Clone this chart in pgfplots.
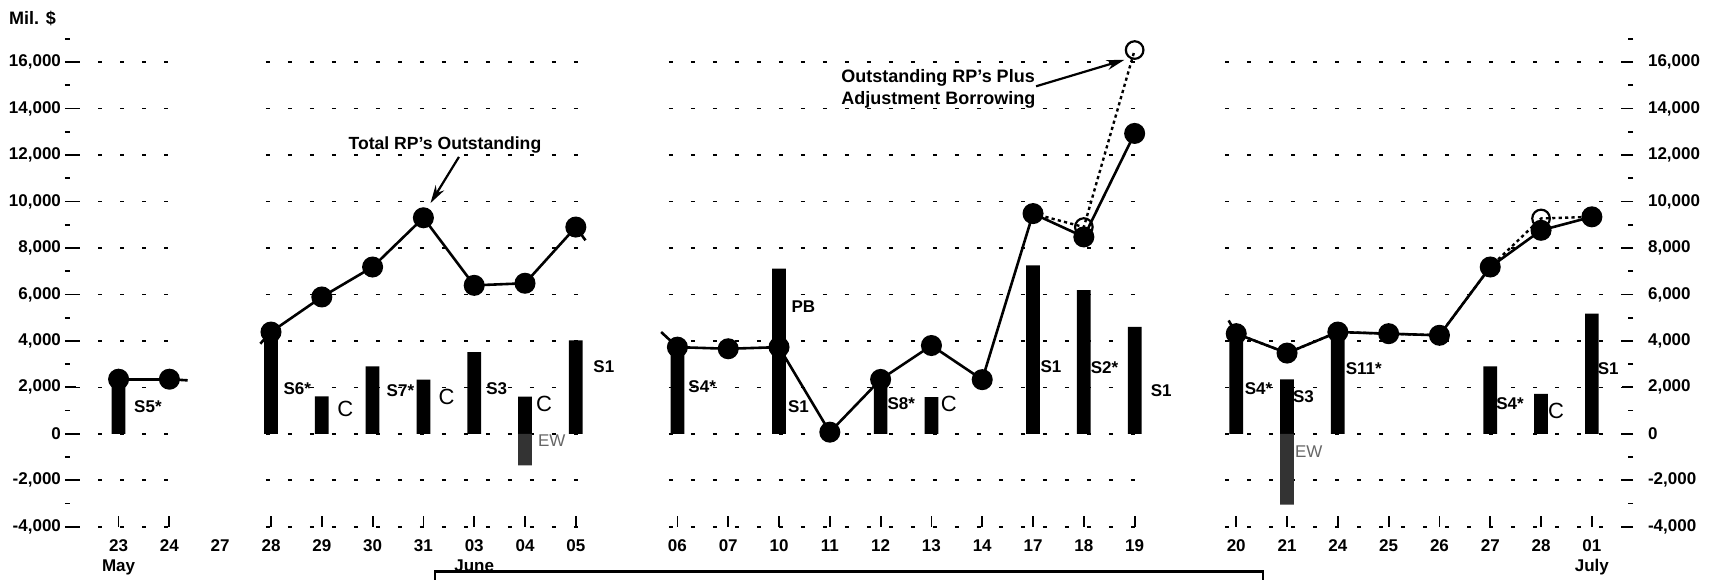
\documentclass[border=0pt]{standalone}
\usepackage{fontspec}
\setmainfont{Liberation Sans}
\usepackage{pgfplots}
\pgfplotsset{compat=1.18}
\usetikzlibrary{arrows.meta}

\newcommand\tickfont{\bfseries\fontsize{8.5}{10}\selectfont}
\newcommand\labfont{\bfseries\fontsize{8.5}{10}\selectfont}
\newcommand\cfont{\fontsize{11}{12}\selectfont}

\tikzset{
  griddash/.style={black, line width=0.8pt, dash pattern=on 2pt off 9pt},
  lab/.style={anchor=west, inner sep=0pt, font=\labfont},
  clab/.style={anchor=west, inner sep=0pt, font=\cfont},
  ewlab/.style={anchor=west, inner sep=0pt, font=\fontsize{8.5}{10}\selectfont, text=black!60},
}

\begin{document}
\begin{tikzpicture}
\begin{axis}[name=ax,
  scale only axis, width=784pt, height=243.9pt,
  xmin=-1.055, xmax=29.81, ymin=-4000, ymax=17000,
  clip=false,
  axis line style={draw=none},
  tick align=inside,
  major tick length=5.5pt, minor tick length=2.5pt,
  tick style={black, line width=0.9pt},
  xtick pos=bottom, ytick pos=both, yticklabel pos=left,
  scaled y ticks=false,
  xtick={0,1,3,4,5,6,7,8,9,11,12,13,14,15,16,17,18,19,20,22,23,24,25,26,27,28,29},
  xticklabels={{23\\May},24,28,29,30,31,{03\\June},04,05,06,07,10,11,12,13,14,17,18,19,20,21,24,25,26,27,28,{01\\July}},
  extra x ticks={2}, extra x tick labels={27},
  extra x tick style={tick style={draw=none}},
  ytick={-4000,-2000,0,2000,4000,6000,8000,10000,12000,14000,16000},
  minor ytick={-3000,-1000,1000,3000,5000,7000,9000,11000,13000,15000,17000},
  yticklabels={{-4,000},{-2,000},0,{2,000},{4,000},{6,000},{8,000},{10,000},{12,000},{14,000},{16,000}},
  ticklabel style={font=\tickfont},
  xticklabel style={align=center, yshift=-3pt},
  yticklabel style={xshift=1.5pt},
]

% dashed grid, in four pieces
\pgfplotsinvokeforeach{-4000,-2000,0,2000,4000,6000,8000,10000,12000,14000,16000}{
  \addplot[griddash, forget plot] coordinates {(-0.83,#1) (1.3,#1)};
  \addplot[griddash, forget plot] coordinates {(2.9,#1) (9.25,#1)};
  \addplot[griddash, forget plot] coordinates {(10.83,#1) (20.14,#1)};
  \addplot[griddash, forget plot] coordinates {(21.78,#1) (29.6,#1)};
}

% operations (bars)
\addplot[ybar, bar width=0.27, bar shift=0pt, fill=black, draw=none] coordinates {
  (0,2330) (3,4300) (4,1610) (5,2900) (6,2330) (7,3520) (8,1600) (9,4020)
  (11,3730) (13,7110) (15,2340) (16,1580) (18,7250) (19,6180) (20,4600)
  (22,4310) (23,2340) (24,4380) (27,2900) (28,1720) (29,5170)
};
\addplot[ybar, bar width=0.27, bar shift=0pt, fill=black!80, draw=none] coordinates {
  (8,-1360) (23,-3050)
};

% outstanding RPs plus adjustment borrowing (dotted)
\addplot[black, line width=1.2pt, dash pattern=on 1.6pt off 1.6pt] coordinates {
  (18,9480) (19,8900) (20,16520)
};
\addplot[black, line width=1.2pt, dash pattern=on 1.6pt off 1.6pt] coordinates {
  (22,4310) (23,3475) (24,4380) (25,4310) (26,4240) (27,7180) (28,9270) (29,9340)
};
\addplot[only marks, mark=o, mark size=4.4pt, mark options={black, line width=1.1pt, fill=white}] coordinates {
  (19,8900) (20,16520) (28,9270)
};

% total RPs outstanding (solid)
\addplot[black, line width=1.3pt] coordinates {(1,2350) (1.36,2300)};
\addplot[black, line width=1.3pt] coordinates {(2.79,3880) (3,4380)};
\addplot[black, line width=1.3pt] coordinates {(9,8900) (9.19,8330)};
\addplot[black, line width=1.3pt] coordinates {(10.68,4380) (11,3730)};
\addplot[black, line width=1.3pt] coordinates {(21.85,4880) (22,4310)};
\addplot[black, line width=1.3pt, mark=*, mark size=4.6pt, mark options={fill=black}] coordinates {
  (0,2350) (1,2350)
};
\addplot[black, line width=1.3pt, mark=*, mark size=4.6pt, mark options={fill=black}] coordinates {
  (3,4380) (4,5890) (5,7180) (6,9300) (7,6390) (8,6480) (9,8900)
};
\addplot[black, line width=1.3pt, mark=*, mark size=4.6pt, mark options={fill=black}] coordinates {
  (11,3730) (12,3660) (13,3730) (14,70) (15,2340) (16,3800) (17,2330) (18,9480) (19,8475) (20,12930)
};
\addplot[black, line width=1.3pt, mark=*, mark size=4.6pt, mark options={fill=black}] coordinates {
  (22,4310) (23,3475) (24,4380) (25,4310) (26,4240) (27,7180) (28,8760) (29,9340)
};

% bar labels
\node[lab] at (axis cs:0.30,1150) {S5*};
\node[lab] at (axis cs:3.24,1940) {S6*};
\node[clab] at (axis cs:4.30,1080) {C};
\node[lab] at (axis cs:5.27,1870) {S7*};
\node[clab] at (axis cs:6.29,1580) {C};
\node[lab] at (axis cs:7.23,1950) {S3};
\node[clab] at (axis cs:8.21,1300) {C};
\node[ewlab] at (axis cs:8.25,-290) {EW};
\node[lab] at (axis cs:9.34,2900) {S1};
\node[lab] at (axis cs:11.21,2010) {S4*};
\node[lab] at (axis cs:13.24,5460) {PB};
\node[lab] at (axis cs:13.17,1150) {S1};
\node[lab] at (axis cs:15.13,1290) {S8*};
\node[clab] at (axis cs:16.18,1290) {C};
\node[lab] at (axis cs:18.14,2870) {S1};
\node[lab] at (axis cs:19.13,2850) {S2*};
\node[lab] at (axis cs:20.31,1870) {S1};
\node[lab] at (axis cs:22.16,1950) {S4*};
\node[lab] at (axis cs:23.11,1580) {S3};
\node[ewlab] at (axis cs:23.15,-790) {EW};
\node[lab] at (axis cs:24.15,2800) {S11*};
\node[lab] at (axis cs:27.11,1290) {S4*};
\node[clab] at (axis cs:28.13,1000) {C};
\node[lab] at (axis cs:29.11,2800) {S1};

% annotations
\node[anchor=west, inner sep=0pt, font=\bfseries\fontsize{8.8}{10}\selectfont] at (axis cs:4.52,12430) {Total RP's Outstanding};
\draw[line width=1.1pt, -{Stealth[length=9pt, width=5pt]}] (axis cs:6.70,11920) -- (axis cs:6.14,9930);
\node[anchor=west, inner sep=0pt, align=left, font=\bfseries\fontsize{9}{10.8}\selectfont] at (axis cs:14.22,14840) {Outstanding RP's Plus\\Adjustment Borrowing};
\draw[line width=1.1pt, -{Stealth[length=9pt, width=5pt]}] (axis cs:18.06,14960) -- (axis cs:19.80,16100);

\node[font=\bfseries\fontsize{9}{10}\selectfont] at (axis cs:-1.695,17880) {Mil. \$};

% box below the chart
\draw[line width=1.3pt] (axis cs:6.23,-9000) -- (axis cs:6.23,-5935) -- (axis cs:22.53,-5935) -- (axis cs:22.53,-9000);
\end{axis}

\begin{axis}[
  at={(ax.south west)}, anchor=south west,
  scale only axis, width=784pt, height=243.9pt,
  xmin=-1.055, xmax=29.81, ymin=-4000, ymax=17000,
  hide x axis, axis line style={draw=none},
  scaled y ticks=false,
  ytick pos=right, yticklabel pos=right, major tick length=0pt,
  ytick={-4000,-2000,0,2000,4000,6000,8000,10000,12000,14000,16000},
  yticklabels={{-4,000},{-2,000},0,{2,000},{4,000},{6,000},{8,000},{10,000},{12,000},{14,000},{16,000}},
  yticklabel style={font=\tickfont, xshift=4pt},
]
\addplot[draw=none, forget plot] coordinates {(0,0)};
\end{axis}

\pgfresetboundingbox
\path ([shift={(-32.5pt,-26.15pt)}]ax.south west) rectangle ([shift={(38pt,19.45pt)}]ax.north east);
\end{tikzpicture}
\end{document}
